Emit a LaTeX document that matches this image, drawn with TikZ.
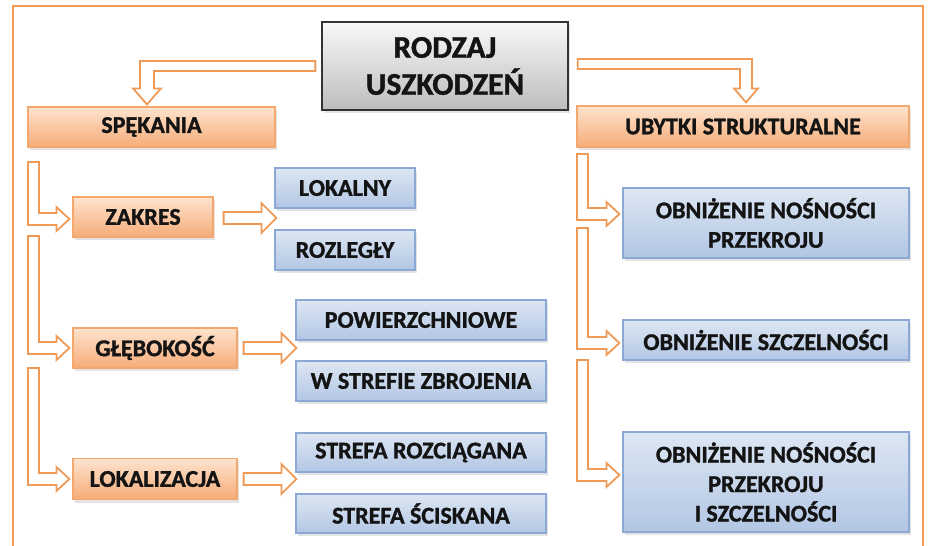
\documentclass[tikz,border=0pt]{standalone}
\usepackage{fontspec}
\setmainfont{Carlito}[BoldFeatures={FakeBold=1.3}]
\usetikzlibrary{shadows,calc}
\definecolor{frameor}{HTML}{F39A55}
\definecolor{arrowor}{HTML}{F09A58}
\definecolor{orline}{HTML}{F4A86E}
\definecolor{ortop}{HTML}{FDE3CE}
\definecolor{orbot}{HTML}{F6AC78}
\definecolor{blline}{HTML}{8CA8D4}
\definecolor{bltop}{HTML}{DDE7F3}
\definecolor{blbot}{HTML}{B2C6E4}
\definecolor{grtop}{HTML}{F8F8F8}
\definecolor{grbot}{HTML}{BDBDBD}
\definecolor{txt}{HTML}{141414}
\tikzset{
  basebox/.style={rectangle, inner sep=0pt, text=txt, font=\bfseries\fontsize{24}{29.5}\selectfont,
    align=center, drop shadow={opacity=0.22, shadow xshift=1.5pt, shadow yshift=-3pt}},
  orbox/.style={basebox, draw=orline, line width=1.2pt, top color=ortop, bottom color=orbot},
  blbox/.style={basebox, draw=blline, line width=1.2pt, top color=bltop, bottom color=blbot},
  grbox/.style={basebox, draw=black!80, line width=1.3pt, top color=grtop, bottom color=grbot,
    font=\bfseries\fontsize{31.5}{37}\selectfont},
  hollow/.style={draw=arrowor, line width=1.8pt, fill=white, line join=miter},
}
% bracket arrow: #1 stem top-left, #2 tip
\newcommand{\brkarrow}[2]{%
  \draw[hollow] let \p1=(#1), \p2=(#2) in
   (\x1,\y1) -- (\x1,\y2-6pt) -- (\x2-13pt,\y2-6pt) -- (\x2-13pt,\y2-12pt) -- (\x2,\y2)
   -- (\x2-13pt,\y2+12pt) -- (\x2-13pt,\y2+6pt) -- (\x1+11pt,\y2+6pt) -- (\x1+11pt,\y1) -- cycle;}
% straight arrow: #1 start, #2 tip
\newcommand{\strarrow}[2]{%
  \draw[hollow] let \p1=(#1), \p2=(#2) in
   (\x1,\y1+6pt) -- (\x2-15pt,\y1+6pt) -- (\x2-15pt,\y1+15pt) -- (\x2,\y1)
   -- (\x2-15pt,\y1-15pt) -- (\x2-15pt,\y1-6pt) -- (\x1,\y1-6pt) -- cycle;}
\begin{document}
\begin{tikzpicture}[x=1pt,y=-1pt]
\useasboundingbox (0,0) rectangle (929,546);
\fill[white] (0,0) rectangle (929,546);
% frame
\draw[frameor, line width=2.8pt] (13,548) -- (13,6) -- (923,6) -- (923,548);

% nodes
\node[grbox, minimum width=246pt, minimum height=88pt] (title) at (445,66) {RODZAJ\\USZKODZEŃ};
\node[orbox, minimum width=247pt, minimum height=40pt] (spek) at (151.5,127) {SPĘKANIA};
\node[orbox, minimum width=332pt, minimum height=41pt] (ubyt) at (743,126.5) {UBYTKI STRUKTURALNE};

\node[orbox, minimum width=140pt, minimum height=40pt] (zakres) at (143,217) {ZAKRES};
\node[orbox, minimum width=164pt, minimum height=40pt] (glebo) at (155,348) {GŁĘBOKOŚĆ};
\node[orbox, minimum width=164pt, minimum height=41pt] (lokal) at (155,479) {LOKALIZACJA};

\node[blbox, minimum width=140pt, minimum height=40pt] (lokalny) at (345,188) {LOKALNY};
\node[blbox, minimum width=140pt, minimum height=40pt] (rozlegly) at (345,250) {ROZLEGŁY};
\node[blbox, minimum width=250pt, minimum height=40pt] (powierz) at (421,320) {POWIERZCHNIOWE};
\node[blbox, minimum width=250pt, minimum height=40pt] (wstref) at (421,381) {W STREFIE ZBROJENIA};
\node[blbox, minimum width=250pt, minimum height=39pt] (rozc) at (421,452.5) {STREFA ROZCIĄGANA};
\node[blbox, minimum width=250pt, minimum height=39pt] (scisk) at (421,513.5) {STREFA ŚCISKANA};

\node[blbox, minimum width=286pt, minimum height=70pt] (obn1) at (766,223) {OBNIŻENIE NOŚNOŚCI\\PRZEKROJU};
\node[blbox, minimum width=286pt, minimum height=40pt] (obn2) at (766,340) {OBNIŻENIE SZCZELNOŚCI};
\node[blbox, minimum width=286pt, minimum height=100pt] (obn3) at (766,482) {OBNIŻENIE NOŚNOŚCI\\PRZEKROJU\\I SZCZELNOŚCI};

% top bent arrows
\coordinate (tl) at ($(title.west)+(-6,0)$);
\coordinate (tr) at ($(title.east)+(9,-2)$);
\coordinate (tipl) at ($(spek.north -| 147,0)+(0,-2)$);
\coordinate (tipr) at ($(ubyt.north -| 746,0)+(0,-3)$);
\draw[hollow] let \p1=(tl), \p2=(tipl) in
  (\x1,\y1+5pt) -- (\x2-7pt,\y1+5pt) -- (\x2-7pt,\y2+16pt) -- (\x2-14pt,\y2+16pt) -- (\x2,\y2)
  -- (\x2+14pt,\y2+16pt) -- (\x2+7pt,\y2+16pt) -- (\x2+7pt,\y1-5pt) -- (\x1,\y1-5pt) -- cycle;
\draw[hollow] let \p1=(tr), \p2=(tipr) in
  (\x1,\y1+5pt) -- (\x2+6pt,\y1+5pt) -- (\x2+6pt,\y2+14pt) -- (\x2+12pt,\y2+14pt) -- (\x2,\y2)
  -- (\x2-12pt,\y2+14pt) -- (\x2-6pt,\y2+14pt) -- (\x2-6pt,\y1-5pt) -- (\x1,\y1-5pt) -- cycle;

% left bracket arrows
\coordinate (ls1) at (28,162);
\coordinate (ls2) at (28,236);
\coordinate (ls3) at (28,368);
\brkarrow{ls1}{$(zakres.west)+(-3,2)$}
\brkarrow{ls2}{$(glebo.west)+(-3,0)$}
\brkarrow{ls3}{$(lokal.west)+(-3,0)$}

% right bracket arrows
\coordinate (rs1) at (577,154);
\coordinate (rs2) at (577,228);
\coordinate (rs3) at (577,360);
\brkarrow{rs1}{$(obn1.west)+(-3,-9)$}
\brkarrow{rs2}{$(obn2.west)+(-3,3)$}
\brkarrow{rs3}{$(obn3.west)+(-3,-7)$}

% straight arrows
\strarrow{$(zakres.east)+(10,1)$}{$(lokalny.west)+(2,31)$}
\strarrow{$(glebo.east)+(6,0)$}{$(powierz.west)+(1,30)$}
\strarrow{$(lokal.east)+(6,0)$}{$(rozc.west)+(1,26)$}
\end{tikzpicture}
\end{document}
